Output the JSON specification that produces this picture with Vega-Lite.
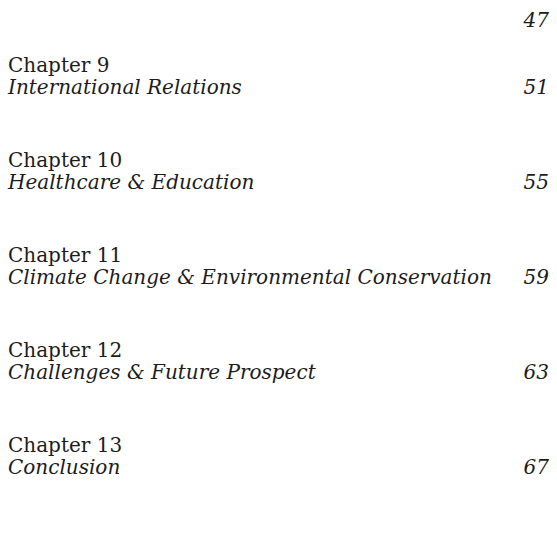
{
  "$schema": "https://vega.github.io/schema/vega-lite/v6.json",
  "width": 541,
  "height": 540,
  "padding": {"left": 8, "right": 8, "top": 0, "bottom": 0},
  "autosize": {"type": "none"},
  "background": "white",
  "config": {
    "view": {"stroke": null},
    "text": {"font": "DejaVu Serif", "fontSize": 20, "fill": "#1c1c1c"}
  },
  "datasets": {
    "toc": [
      {"chapter": "Chapter 9", "title": "International Relations", "page": 51},
      {"chapter": "Chapter 10", "title": "Healthcare & Education", "page": 55},
      {"chapter": "Chapter 11", "title": "Climate Change & Environmental Conservation", "page": 59},
      {"chapter": "Chapter 12", "title": "Challenges & Future Prospect", "page": 63},
      {"chapter": "Chapter 13", "title": "Conclusion", "page": 67}
    ],
    "prev": [{"page": 47}]
  },
  "resolve": {"scale": {"y": "independent"}},
  "layer": [
    {
      "data": {"name": "toc"},
      "layer": [
        {
          "mark": {"type": "text", "align": "left", "baseline": "alphabetic", "dy": -22, "fontSize": 20},
          "encoding": {
            "x": {"value": 0},
            "y": {"field": "page", "type": "quantitative", "axis": null, "scale": {"domain": [47.042, 69.779], "reverse": true, "nice": false, "zero": false}},
            "text": {"field": "chapter"}
          }
        },
        {
          "mark": {"type": "text", "align": "left", "baseline": "alphabetic", "fontStyle": "italic"},
          "encoding": {
            "x": {"value": 0},
            "y": {"field": "page", "type": "quantitative", "axis": null},
            "text": {"field": "title"}
          }
        },
        {
          "mark": {"type": "text", "align": "right", "baseline": "alphabetic", "fontStyle": "italic"},
          "encoding": {
            "x": {"value": "width"},
            "y": {"field": "page", "type": "quantitative", "axis": null},
            "text": {"field": "page", "type": "quantitative"}
          }
        }
      ]
    },
    {
      "data": {"name": "prev"},
      "mark": {"type": "text", "align": "right", "baseline": "alphabetic", "fontStyle": "italic"},
      "encoding": {
        "x": {"value": "width"},
        "y": {"field": "page", "type": "quantitative", "axis": null, "scale": {"domain": [46, 66], "reverse": true, "nice": false, "zero": false}},
        "text": {"field": "page", "type": "quantitative"}
      }
    }
  ]
}
